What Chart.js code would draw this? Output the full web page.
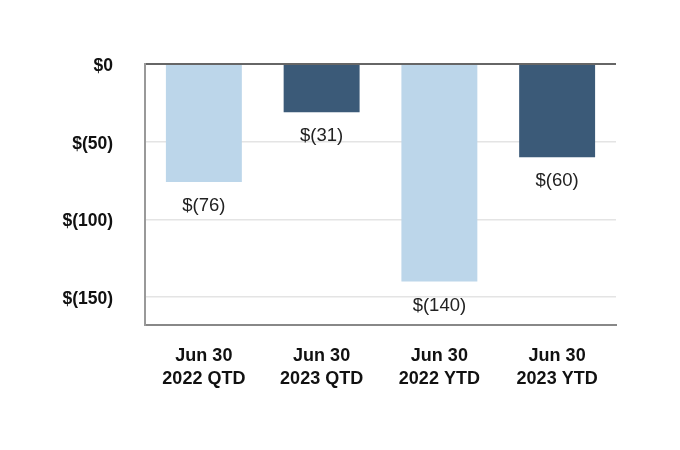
<!DOCTYPE html>
<html><head><meta charset="utf-8">
<script src="https://cdn.jsdelivr.net/npm/chart.js@4/dist/chart.umd.min.js"></script>
<style>html,body{margin:0;padding:0;background:#fff}#w{width:680px;height:450px}</style>
</head><body><div id="w"><canvas id="c"></canvas></div>
<script>
const categories = [["Jun 30","2022 QTD"],["Jun 30","2023 QTD"],["Jun 30","2022 YTD"],["Jun 30","2023 YTD"]];
const values = [-76, -31, -140, -60];
const barColors = ["#BCD6EA","#3B5A78","#BCD6EA","#3B5A78"];
const yTicks = [0, -50, -100, -150];
const fmt = v => v === 0 ? "$0" : (v < 0 ? "$(" + Math.abs(v) + ")" : "$" + v);

const labelPlugin = {
  id: 'lbl',
  afterDatasetsDraw(chart) {
    const ctx = chart.ctx;
    const meta = chart.getDatasetMeta(0);
    ctx.save();
    ctx.font = '18.5px "Liberation Sans", Arial, sans-serif';
    ctx.fillStyle = '#222';
    ctx.textAlign = 'center';
    ctx.textBaseline = 'middle';
    meta.data.forEach((bar, i) => {
      ctx.fillText(fmt(values[i]), bar.x, bar.y + 24);
    });
    ctx.restore();
  }
};

new Chart(document.getElementById('c'), {
  type: 'bar',
  data: { labels: categories, datasets: [{ data: values, backgroundColor: barColors, borderWidth: 0, categoryPercentage: 1, barPercentage: 0.645 }] },
  options: {
    responsive: true, maintainAspectRatio: false, animation: false,
    layout: { padding: { left: 0, right: 64, top: 64, bottom: 50 } },
    plugins: { legend: { display: false }, tooltip: { enabled: false } },
    scales: {
      x: {
        grid: { display: false, drawTicks: false },
        border: { display: true, color: '#888', width: 2 },
        ticks: { color: '#111', padding: 20, font: { family: '"Liberation Sans", Arial, sans-serif', size: 18, weight: 'bold', lineHeight: 1.25 }, maxRotation: 0 },
        afterFit(s) { s.height = 75; }
      },
      y: {
        min: -168, max: 0,
        afterBuildTicks(s) { s.ticks = yTicks.map(v => ({ value: v })); },
        grid: { drawTicks: false, color: c => c.tick && c.tick.value === 0 ? '#666' : '#E4E4E4', lineWidth: c => c.tick && c.tick.value === 0 ? 2 : 1.5 },
        border: { display: true, color: '#999', width: 2 },
        ticks: { color: '#111', padding: 32, labelOffset: 2, font: { family: '"Liberation Sans", Arial, sans-serif', size: 17.5, weight: 'bold' }, callback: v => fmt(v) },
        afterFit(s) { s.width = 145; }
      }
    }
  },
  plugins: [labelPlugin]
});
</script></body></html>
